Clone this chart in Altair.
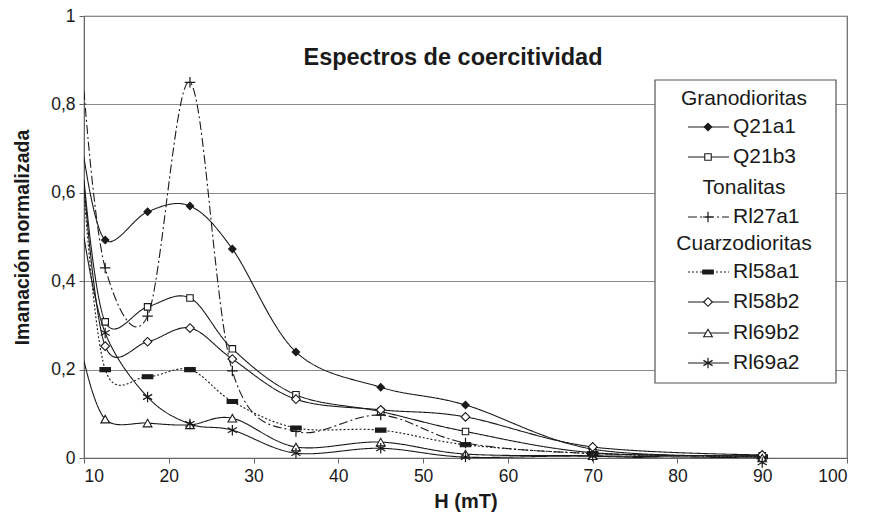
import altair as alt
import pandas as pd

# ---------------- data ----------------
H = [10, 12.5, 17.5, 22.5, 27.5, 35, 45, 55, 70, 90]

Q21a1 = [0.68, 0.493, 0.557, 0.570, 0.473, 0.240, 0.160, 0.120, 0.020, 0.005]
Q21b3 = [0.63, 0.308, 0.342, 0.362, 0.247, 0.143, 0.105, 0.060, 0.012, 0.005]
RI27a1 = [0.83, 0.430, 0.321, 0.850, 0.197, 0.060, 0.097, 0.034, 0.010, 0.004]
RI58a1 = [0.60, 0.200, 0.184, 0.200, 0.128, 0.068, 0.063, 0.030, 0.010, 0.003]
RI58b2 = [0.62, 0.253, 0.263, 0.294, 0.224, 0.133, 0.109, 0.093, 0.025, 0.007]
RI69b2 = [0.22, 0.088, 0.079, 0.075, 0.090, 0.025, 0.036, 0.009, 0.005, 0.000]
RI69a2 = [0.50, 0.283, 0.138, 0.077, 0.063, 0.011, 0.022, 0.002, 0.004, -0.010]

series_names = ["Q21a1", "Q21b3", "RI27a1", "RI58a1", "RI58b2", "RI69b2", "RI69a2"]
series_values = [Q21a1, Q21b3, RI27a1, RI58a1, RI58b2, RI69b2, RI69a2]
legend_labels = ["Q21a1", "Q21b3", "Rl27a1", "Rl58a1", "Rl58b2", "Rl69b2", "Rl69a2"]
groups = ["Granodioritas", "Tonalitas", "Cuarzodioritas"]
group_of = ["Granodioritas", "Granodioritas", "Tonalitas", "Cuarzodioritas",
            "Cuarzodioritas", "Cuarzodioritas", "Cuarzodioritas"]

TITLE = "Espectros de coercitividad"
X_TITLE = "H (mT)"
Y_TITLE = "Imanación normalizada"
X_TICKS = [10, 20, 30, 40, 50, 60, 70, 80, 90, 100]
Y_TICKS = [0, 0.2, 0.4, 0.6, 0.8, 1]

# ---------------- styles ----------------
FONT = "Liberation Sans"
INK = "#1a1a1a"
PLUS = "M-1,0H1M0,-1V1"
ASTER = "M0,-1V1M-0.87,-0.5L0.87,0.5M-0.87,0.5L0.87,-0.5"
BAR = "M-1,-0.38H1V0.38H-1Z"

style = {
    "Q21a1": dict(shape="diamond", fill=INK, size=55, dash=[1, 0]),
    "Q21b3": dict(shape="square", fill="white", size=42, dash=[1, 0]),
    "RI27a1": dict(shape=PLUS, fill=None, size=110, dash=[9, 3, 2, 3]),
    "RI58a1": dict(shape=BAR, fill=INK, size=110, dash=[2, 2]),
    "RI58b2": dict(shape="diamond", fill="white", size=75, dash=[1, 0]),
    "RI69b2": dict(shape="triangle-up", fill="white", size=75, dash=[1, 0]),
    "RI69a2": dict(shape=ASTER, fill=None, size=110, dash=[1, 0]),
}

W, HGT = 763, 442

xscale = alt.Scale(domain=[10, 100], nice=False)
yscale = alt.Scale(domain=[0, 1], nice=False)

xaxis = alt.Axis(values=X_TICKS, title=X_TITLE, grid=False, tickSize=5,
                 labelFontSize=17.5, titleFontSize=20, titleFontWeight="bold",
                 titlePadding=7, labelPadding=4)
yaxis = alt.Axis(values=Y_TICKS, title=Y_TITLE, grid=True, tickSize=5,
                 labelFontSize=17.5, titleFontSize=19.5, titleFontWeight="bold",
                 titlePadding=18, labelPadding=4,
                 labelExpr="datum.value == 0 || datum.value == 1 ? format(datum.value, 'd') : replace(format(datum.value, '.1f'), '.', ',')")

layers = []
for name, vals in zip(series_names, series_values):
    df = pd.DataFrame({"H": H, "v": vals, "serie": name})
    st = style[name]
    base = alt.Chart(df)
    enc_x = alt.X("H:Q", scale=xscale, axis=xaxis)
    enc_y = alt.Y("v:Q", scale=yscale, axis=yaxis)
    line = base.mark_line(interpolate="cardinal", color=INK, strokeWidth=1.1,
                          strokeDash=st["dash"], clip=True).encode(x=enc_x, y=enc_y)
    pts = base.transform_filter("datum.H > 10")
    if st["fill"] is None:
        pm = pts.mark_point(shape=st["shape"], size=st["size"], filled=False,
                            stroke=INK, strokeWidth=1.2, opacity=1)
    else:
        pm = pts.mark_point(shape=st["shape"], size=st["size"], filled=True,
                            fill=st["fill"], stroke=INK, strokeWidth=1.1, opacity=1)
    pm = pm.encode(x=enc_x, y=enc_y)
    layers += [line, pm]

one = pd.DataFrame({"a": [0]})

# title inside the plot
title = alt.Chart(one).mark_text(text=TITLE, font=FONT, fontSize=23.5, fontWeight="bold",
                                 color=INK, align="center", baseline="middle").encode(
    x=alt.value(369), y=alt.value(42))
layers.append(title)

# legend box
box = alt.Chart(one).mark_rect(fill="white", stroke="#555", strokeWidth=1.2).encode(
    x=alt.value(571), x2=alt.value(752), y=alt.value(64), y2=alt.value(367))
layers.append(box)

row_y = [83, 111, 141, 172, 201, 228, 256, 286, 317, 347]
r = 0
for g in groups:
    layers.append(alt.Chart(one).mark_text(text=g, font=FONT, fontSize=21, color=INK,
                                           align="center", baseline="middle").encode(
        x=alt.value(660), y=alt.value(row_y[r])))
    r += 1
    for name, lab, grp in zip(series_names, legend_labels, group_of):
        if grp != g:
            continue
        st = style[name]
        yy = row_y[r]
        layers.append(alt.Chart(one).mark_rule(color=INK, strokeWidth=1.1,
                                               strokeDash=st["dash"]).encode(
            x=alt.value(604), x2=alt.value(645), y=alt.value(yy)))
        if st["fill"] is None:
            m = alt.Chart(one).mark_point(shape=st["shape"], size=st["size"], filled=False,
                                          stroke=INK, strokeWidth=1.2, opacity=1)
        else:
            m = alt.Chart(one).mark_point(shape=st["shape"], size=st["size"], filled=True,
                                          fill=st["fill"], stroke=INK, strokeWidth=1.1, opacity=1)
        layers.append(m.encode(x=alt.value(624), y=alt.value(yy)))
        layers.append(alt.Chart(one).mark_text(text=lab, font=FONT, fontSize=21, color=INK,
                                               align="left", baseline="middle").encode(
            x=alt.value(649), y=alt.value(yy)))
        r += 1

chart = alt.layer(*layers).properties(
    width=W, height=HGT,
    padding={"left": 84, "top": 16, "right": 31, "bottom": 57},
    autosize=alt.AutoSizeParams(type="none"),
    background="white",
).configure_view(stroke="#666", strokeWidth=1.2).configure_axis(
    labelFont=FONT, titleFont=FONT, labelColor=INK, titleColor=INK,
    domainColor="#666", tickColor="#666", gridColor="#8a8a8a", gridWidth=1,
)

chart.save("out.html", embed_options={"renderer": "svg", "actions": False})
